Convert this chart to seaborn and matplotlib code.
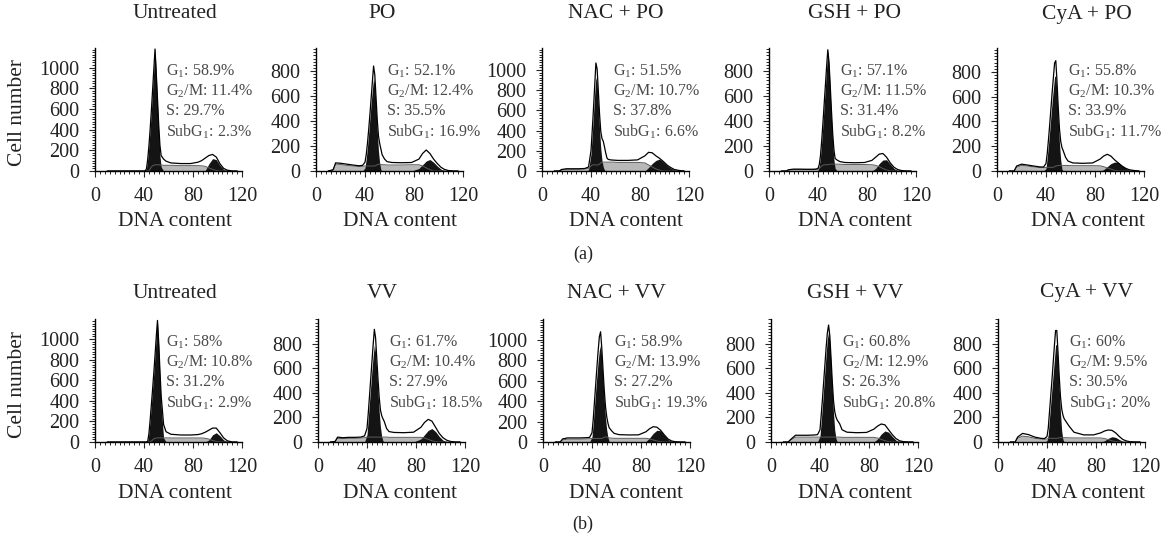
import matplotlib
matplotlib.use('Agg')
import matplotlib.pyplot as plt
from matplotlib.ticker import MultipleLocator
import seaborn as sns

# DNA content grid shared by all histograms
DNA = [10, 14, 16, 20, 25, 30, 35, 38, 40, 41, 42, 43, 44, 45, 46, 47, 48, 49, 50,
       51, 52, 53, 54, 56, 58, 62, 70, 78, 84, 87, 90, 93, 96, 99, 102, 105, 108, 112, 116]

# (a) PO series: overall profile, G1/G2 peaks (black), S + subG1 (gray)
titles_a = ['Untreated', 'PO', 'NAC + PO', 'GSH + PO', 'CyA + PO']
total_a = [
    [0, 0, 0, 0, 0, 0, 0, 0, 0, 2, 20, 110, 240, 400, 580, 780, 980, 1180, 950, 700, 450, 250, 150, 115, 95, 78, 72, 72, 85, 100, 125, 150, 160, 135, 70, 25, 8, 0, 0],
    [0, 10, 65, 62, 55, 48, 42, 45, 70, 130, 220, 330, 450, 580, 710, 840, 770, 590, 410, 280, 220, 175, 130, 95, 75, 68, 66, 68, 95, 140, 168, 140, 95, 60, 30, 12, 4, 0, 0],
    [0, 0, 15, 22, 22, 22, 25, 40, 200, 400, 610, 840, 1070, 1010, 790, 560, 390, 320, 295, 240, 180, 130, 115, 110, 108, 105, 105, 110, 150, 185, 180, 150, 125, 95, 60, 35, 15, 5, 0],
    [0, 0, 10, 15, 15, 14, 14, 15, 20, 50, 120, 240, 380, 530, 680, 830, 970, 870, 680, 480, 300, 170, 100, 85, 75, 68, 66, 68, 85, 110, 135, 140, 110, 65, 30, 12, 4, 0, 0],
    [0, 0, 40, 55, 48, 40, 33, 32, 60, 140, 250, 370, 500, 630, 750, 870, 890, 720, 510, 340, 240, 190, 165, 110, 80, 65, 62, 65, 95, 120, 135, 120, 90, 65, 40, 22, 10, 4, 0],
]
dark_a = [
    [0, 0, 0, 0, 0, 0, 0, 0, 0, 2, 20, 110, 240, 400, 580, 780, 980, 1180, 930, 650, 380, 150, 40, 0, 0, 0, 0, 0, 0, 0, 5, 70, 120, 110, 55, 15, 3, 0, 0],
    [0, 0, 0, 0, 0, 0, 0, 0, 25, 100, 190, 300, 420, 540, 650, 740, 690, 510, 320, 160, 60, 10, 0, 0, 0, 0, 0, 0, 20, 50, 80, 92, 70, 40, 15, 3, 0, 0, 0],
    [0, 0, 0, 0, 0, 0, 0, 10, 170, 360, 550, 760, 930, 870, 650, 410, 220, 100, 40, 10, 0, 0, 0, 0, 0, 0, 0, 0, 0, 35, 75, 105, 118, 90, 55, 30, 12, 3, 0],
    [0, 0, 0, 0, 0, 0, 0, 0, 5, 40, 110, 230, 370, 520, 670, 820, 960, 840, 630, 410, 220, 90, 20, 0, 0, 0, 0, 0, 0, 20, 60, 88, 90, 55, 20, 5, 0, 0, 0],
    [0, 0, 0, 0, 0, 0, 0, 0, 20, 110, 210, 320, 440, 560, 660, 760, 770, 620, 410, 220, 90, 15, 0, 0, 0, 0, 0, 0, 0, 10, 35, 60, 72, 70, 45, 22, 8, 0, 0],
]
gray_a = [
    [0, 0, 0, 0, 0, 0, 0, 0, 0, 0, 0, 0, 0, 20, 40, 50, 55, 60, 60, 60, 60, 58, 58, 55, 55, 55, 52, 52, 52, 50, 45, 30, 15, 5, 0, 0, 0, 0, 0],
    [0, 8, 55, 52, 45, 40, 36, 38, 40, 40, 40, 40, 40, 40, 40, 40, 40, 45, 50, 55, 55, 52, 50, 50, 48, 48, 48, 50, 50, 40, 25, 10, 0, 0, 0, 0, 0, 0, 0],
    [0, 0, 10, 18, 18, 18, 20, 25, 50, 60, 60, 60, 60, 60, 60, 70, 80, 85, 88, 88, 88, 88, 88, 88, 88, 85, 85, 85, 80, 60, 40, 20, 8, 0, 0, 0, 0, 0, 0],
    [0, 0, 8, 12, 12, 12, 12, 12, 15, 20, 30, 40, 45, 50, 50, 50, 50, 52, 55, 55, 55, 55, 55, 55, 54, 52, 52, 52, 50, 45, 35, 20, 8, 0, 0, 0, 0, 0, 0],
    [0, 0, 30, 45, 40, 33, 28, 27, 28, 30, 30, 30, 30, 30, 30, 35, 40, 42, 45, 45, 45, 45, 45, 45, 44, 43, 43, 43, 42, 35, 25, 15, 5, 0, 0, 0, 0, 0, 0],
]
g1_a = ['58.9%', '52.1%', '51.5%', '57.1%', '55.8%']
g2m_a = ['11.4%', '12.4%', '10.7%', '11.5%', '10.3%']
s_a = ['29.7%', '35.5%', '37.8%', '31.4%', '33.9%']
sub_a = ['2.3%', '16.9%', '6.6%', '8.2%', '11.7%']
ymax_a = [1190, 984, 1218, 984, 992]
ytop_a = [1000, 800, 1000, 800, 800]

# (b) VV series
titles_b = ['Untreated', 'VV', 'NAC + VV', 'GSH + VV', 'CyA + VV']
total_b = [
    [0, 0, 0, 0, 0, 0, 0, 0, 0, 0, 0, 5, 80, 210, 360, 510, 670, 840, 1020, 1180, 970, 700, 450, 170, 100, 75, 68, 68, 72, 80, 95, 115, 135, 135, 90, 40, 12, 0, 0],
    [0, 5, 40, 35, 38, 38, 40, 50, 110, 230, 370, 510, 650, 790, 920, 850, 680, 510, 360, 260, 215, 190, 170, 110, 85, 78, 76, 80, 120, 160, 185, 170, 120, 70, 35, 15, 5, 0, 0],
    [0, 0, 30, 40, 40, 40, 42, 45, 90, 220, 390, 560, 730, 890, 1030, 1080, 920, 710, 510, 350, 250, 185, 140, 110, 85, 72, 69, 70, 100, 130, 150, 145, 115, 70, 30, 10, 3, 0, 0],
    [0, 0, 20, 55, 55, 55, 57, 60, 100, 220, 350, 490, 630, 770, 890, 955, 870, 690, 500, 340, 250, 205, 180, 150, 100, 80, 76, 78, 105, 130, 147, 140, 100, 60, 28, 10, 3, 0, 0],
    [0, 0, 40, 70, 60, 40, 30, 28, 45, 110, 240, 370, 500, 640, 780, 910, 910, 730, 530, 370, 270, 220, 190, 160, 130, 80, 58, 58, 75, 90, 98, 95, 75, 45, 20, 8, 2, 0, 0],
]
dark_b = [
    [0, 0, 0, 0, 0, 0, 0, 0, 0, 0, 0, 5, 80, 210, 360, 510, 670, 840, 1020, 1170, 930, 630, 350, 40, 0, 0, 0, 0, 0, 0, 0, 20, 70, 90, 60, 20, 5, 0, 0],
    [0, 0, 0, 0, 0, 0, 0, 0, 60, 190, 320, 450, 580, 700, 790, 730, 580, 400, 240, 120, 45, 10, 0, 0, 0, 0, 0, 0, 25, 60, 95, 110, 85, 45, 15, 3, 0, 0, 0],
    [0, 0, 0, 0, 0, 0, 0, 0, 50, 180, 340, 500, 650, 790, 900, 950, 820, 610, 410, 240, 120, 45, 5, 0, 0, 0, 0, 0, 5, 40, 85, 115, 110, 65, 25, 5, 0, 0, 0],
    [0, 0, 0, 0, 0, 0, 0, 0, 50, 170, 300, 440, 580, 720, 840, 900, 820, 630, 430, 240, 100, 30, 3, 0, 0, 0, 0, 0, 0, 25, 65, 90, 80, 45, 15, 3, 0, 0, 0],
    [0, 0, 0, 0, 0, 0, 0, 0, 10, 60, 190, 310, 430, 550, 670, 790, 800, 630, 430, 240, 90, 20, 0, 0, 0, 0, 0, 0, 0, 10, 30, 43, 38, 20, 6, 0, 0, 0, 0],
]
gray_b = [
    [0, 0, 0, 0, 0, 0, 0, 0, 0, 0, 0, 0, 0, 0, 10, 20, 30, 35, 38, 40, 40, 40, 40, 40, 40, 39, 39, 39, 39, 39, 36, 28, 15, 5, 0, 0, 0, 0, 0],
    [0, 3, 30, 28, 30, 30, 32, 35, 40, 40, 40, 40, 40, 40, 40, 40, 40, 40, 40, 40, 40, 40, 40, 40, 38, 38, 38, 38, 38, 32, 22, 10, 3, 0, 0, 0, 0, 0, 0],
    [0, 0, 20, 28, 28, 28, 30, 32, 35, 35, 35, 35, 35, 35, 35, 35, 36, 40, 45, 50, 50, 45, 40, 38, 36, 36, 36, 36, 36, 30, 20, 10, 3, 0, 0, 0, 0, 0, 0],
    [0, 0, 15, 40, 40, 40, 40, 40, 40, 40, 40, 40, 40, 40, 40, 40, 40, 40, 40, 40, 40, 40, 40, 40, 38, 38, 38, 38, 38, 32, 22, 10, 3, 0, 0, 0, 0, 0, 0],
    [0, 0, 30, 48, 42, 30, 24, 22, 25, 28, 30, 30, 30, 30, 30, 30, 30, 32, 35, 35, 35, 35, 35, 35, 34, 33, 33, 33, 33, 28, 20, 10, 3, 0, 0, 0, 0, 0, 0],
]
g1_b = ['58%', '61.7%', '58.9%', '60.8%', '60%']
g2m_b = ['10.8%', '10.4%', '13.9%', '12.9%', '9.5%']
s_b = ['31.2%', '27.9%', '27.2%', '26.3%', '30.5%']
sub_b = ['2.9%', '18.5%', '19.3%', '20.8%', '20%']
ymax_b = [1194, 1004, 1205, 1004, 1004]
ytop_b = [1000, 800, 1000, 800, 800]

sns.set_style('ticks')
plt.rcParams['font.family'] = ['Liberation Serif', 'DejaVu Serif']
plt.rcParams['mathtext.fontset'] = 'custom'
plt.rcParams['mathtext.rm'] = 'Liberation Serif'
plt.rcParams['mathtext.it'] = 'Liberation Serif:italic'

W, H = 1165, 538
fig = plt.figure(figsize=(W / 100, H / 100), dpi=100)

TXT = '#222222'
NOTE = '#4a4a4a'

rows = [
    dict(titles=titles_a, total=total_a, dark=dark_a, gray=gray_a, g1=g1_a, g2m=g2m_a,
         s=s_a, sub=sub_a, ymax=ymax_a, ytop=ytop_a,
         lefts=[95, 316, 542, 769, 997], top=48, title_y=14, xlab_y=222, ylab_y=113),
    dict(titles=titles_b, total=total_b, dark=dark_b, gray=gray_b, g1=g1_b, g2m=g2m_b,
         s=s_b, sub=sub_b, ymax=ymax_b, ytop=ytop_b,
         lefts=[95, 318, 543, 771, 998], top=319, title_y=293, xlab_y=493, ylab_y=385),
]
label_x = [175, 382, 616, 855, 1087]
xlab_x = [175, 400, 626, 855, 1088]

for row in rows:
    for i in range(5):
        left = row['lefts'][i]
        ax = fig.add_axes([left / W, 1 - (row['top'] + 123) / H, 147 / W, 123 / H])
        ax.fill_between(DNA, row['total'][i], color='white', lw=0)
        ax.fill_between(DNA, row['gray'][i], color='#b8b8b8', lw=0)
        sns.lineplot(x=DNA, y=row['gray'][i], ax=ax, color='#5a5a5a', lw=0.7)
        ax.fill_between(DNA, row['dark'][i], color='#141414', lw=0)
        sns.lineplot(x=DNA, y=row['total'][i], ax=ax, color='black', lw=0.9)

        ax.set_xlim(0, 120)
        ax.set_ylim(0, row['ymax'][i])
        ax.set_xticks([0, 40, 80, 120])
        ax.set_yticks(list(range(0, row['ytop'][i] + 1, 200)))
        ax.xaxis.set_minor_locator(MultipleLocator(4))
        ax.yaxis.set_minor_locator(MultipleLocator(25))
        ax.tick_params(which='major', direction='out', length=4, width=0.8,
                       labelsize=14.5, labelcolor=TXT)
        ax.tick_params(axis='x', which='major', pad=7.5)
        ax.tick_params(axis='y', which='major', pad=7)
        ax.tick_params(which='minor', direction='out', length=2.5, width=0.7)
        for side in ['top', 'right']:
            ax.spines[side].set_visible(False)
        for side in ['left', 'bottom']:
            ax.spines[side].set_linewidth(1.0)
            ax.spines[side].set_color('black')
        ax.set_xlabel('')
        ax.set_ylabel('')

        notes = [r'$\mathrm{G_1}$: ' + row['g1'][i],
                 r'$\mathrm{G_2}$/M: ' + row['g2m'][i],
                 'S: ' + row['s'][i],
                 r'Sub$\mathrm{G_1}$: ' + row['sub'][i]]
        for k, t in enumerate(notes):
            ax.text(0.48, 0.81 - 0.163 * k, t, transform=ax.transAxes,
                    fontsize=11.5, color=NOTE, va='center', ha='left')

        fig.text(label_x[i] / W, 1 - row['title_y'] / H, row['titles'][i],
                 fontsize=15.5, color=TXT, ha='center', va='center')
        fig.text(xlab_x[i] / W, 1 - row['xlab_y'] / H, 'DNA content',
                 fontsize=15.5, color=TXT, ha='center', va='center')
    fig.text(18 / W, 1 - row['ylab_y'] / H, 'Cell number', fontsize=15.5, color=TXT,
             rotation=90, ha='center', va='center')

fig.text(583 / W, 1 - 254 / H, '(a)', fontsize=13, color=TXT, ha='center', va='center')
fig.text(583 / W, 1 - 524 / H, '(b)', fontsize=13, color=TXT, ha='center', va='center')

fig.savefig('out.png', dpi=100)
